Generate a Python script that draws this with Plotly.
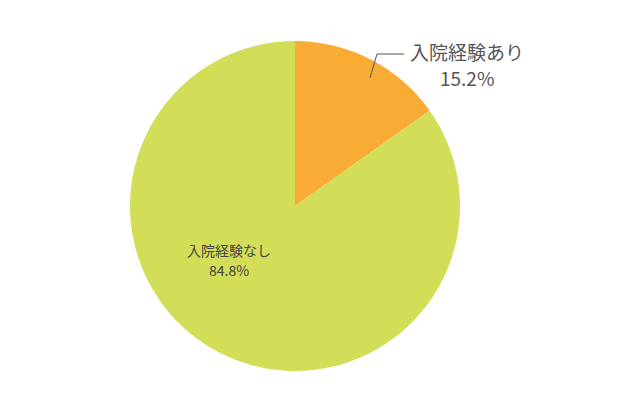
import plotly.graph_objects as go

labels = ["入院経験あり", "入院経験なし"]
values = [15.2, 84.8]
colors = ["#F9AC33", "#D3DE58"]

W, H = 620, 410
OFF = 8  # page body margin


def px(x, y):
    # target pixel -> paper coords
    return (x - OFF) / W, 1 - (y - OFF) / H


dx0, dy0 = px(130, 371)
dx1, dy1 = px(460, 41)

fig = go.Figure(go.Pie(
    labels=labels, values=values, sort=False, direction="clockwise", rotation=0,
    marker=dict(colors=colors, line=dict(width=0)),
    textinfo="none", hoverinfo="label+percent",
    domain=dict(x=[dx0, dx1], y=[dy0, dy1]),
))

font_jp = "Noto Sans CJK JP, sans-serif"


def label(text, x, y, size, color):
    ax, ay = px(x, y)
    fig.add_annotation(text=text, x=ax, y=ay, xref="paper", yref="paper",
                       xanchor="center", yanchor="middle", showarrow=False,
                       font=dict(family=font_jp, size=size, color=color))


label(labels[0], 467, 52, 19, "#555555")
label(f"{values[0]}%", 467, 77, 19, "#555555")
label(labels[1], 229, 250, 14, "#444444")
label(f"{values[1]}%", 229, 270, 14, "#444444")

# leader line for the small slice
pts = [px(370, 78), px(377, 54), px(404, 54)]
path = "M {} {} L {} {} L {} {}".format(*[c for p in pts for c in p])
fig.add_shape(type="path", path=path, xref="paper", yref="paper",
              line=dict(color="#555555", width=1))

fig.update_layout(
    width=W, height=H, margin=dict(l=0, r=0, t=0, b=0),
    showlegend=False, paper_bgcolor="#FFFFFF", plot_bgcolor="#FFFFFF",
)

fig.write_html("out.html")
